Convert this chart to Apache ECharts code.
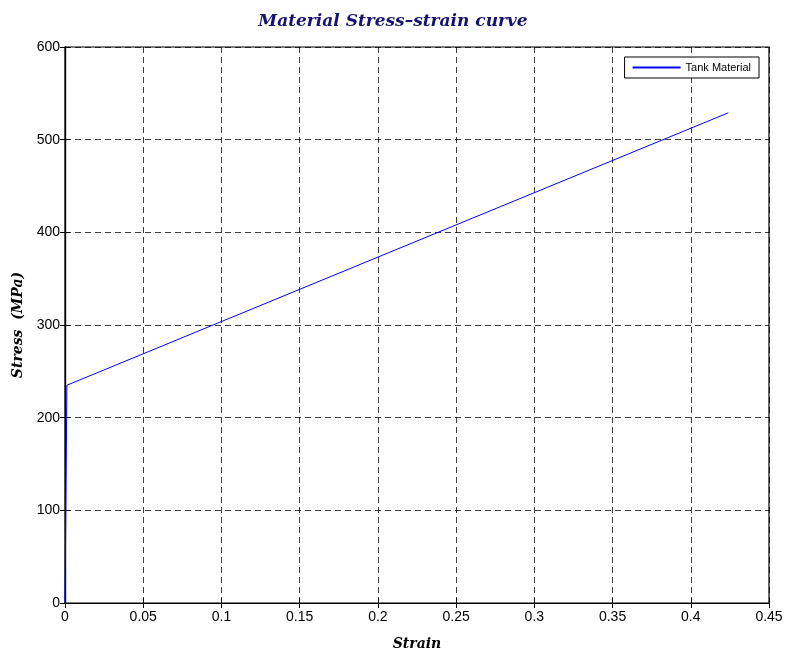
<!DOCTYPE html>
<html><head><meta charset="utf-8">
<script src="https://cdn.jsdelivr.net/npm/echarts@6/dist/echarts.min.js"></script>
<style>html,body{margin:0;padding:0;background:#fff}#c{width:786px;height:657px}</style>
</head><body><div id="c"></div>
<script>
const strain = [0, 0.0012, 0.424];
const stress = [0, 235, 529];
const seriesName = 'Tank Material';
const chart = echarts.init(document.getElementById('c'), null, {renderer:'canvas'});
const axisFont = {fontFamily:'Liberation Sans, Arial', fontSize:14, color:'#000'};
const split = {show:true, lineStyle:{color:'#000', type:[6,4], width:1, opacity:0.75}};
chart.setOption({
  animation:false,
  backgroundColor:'#fff',
  title:{text:'Material Stress\u2013strain curve', left:'center', top:8,
    textStyle:{fontFamily:'DejaVu Serif, serif', fontStyle:'italic', fontWeight:'bold', fontSize:17, color:'#141470'}},
  legend:{data:[seriesName], right:27, top:57, orient:'vertical', backgroundColor:'#fff',
    borderColor:'#000', borderWidth:1, borderRadius:0, padding:[5,8,5,8], itemWidth:48, itemHeight:2,
    icon:'rect', textStyle:{fontFamily:'Liberation Sans, Arial', fontSize:11, color:'#000'}},
  grid:{left:65, right:17, top:47, bottom:54, show:true, borderColor:'#000', borderWidth:1.2},
  xAxis:[{type:'value', min:0, max:0.45, interval:0.05, position:'bottom',
    name:'Strain', nameLocation:'middle', nameGap:34,
    nameTextStyle:{fontFamily:'DejaVu Serif, serif', fontStyle:'italic', fontWeight:'bold', fontSize:14, color:'#000'},
    axisLine:{show:true, lineStyle:{color:'#000', width:1.2}},
    axisTick:{show:true, inside:true, length:5, lineStyle:{color:'#000'}},
    axisLabel:Object.assign({margin:7, formatter:v=>String(+v.toFixed(2))}, axisFont),
    splitLine:split},
    {type:'value', min:0, max:0.45, interval:0.05, position:'top',
    axisLine:{show:true, lineStyle:{color:'#000', width:1.2}},
    axisTick:{show:true, inside:true, length:5, lineStyle:{color:'#000'}},
    axisLabel:{show:false}, splitLine:{show:false}}],
  yAxis:[{type:'value', min:0, max:600, interval:100, position:'left',
    name:'Stress  (MPa)', nameLocation:'middle', nameGap:40,
    nameTextStyle:{fontFamily:'DejaVu Serif, serif', fontStyle:'italic', fontWeight:'bold', fontSize:14, color:'#000'},
    axisLine:{show:true, lineStyle:{color:'#000', width:1.2}},
    axisTick:{show:true, inside:true, length:5, lineStyle:{color:'#000'}},
    axisLabel:Object.assign({margin:5}, axisFont),
    splitLine:split},
    {type:'value', min:0, max:600, interval:100, position:'right',
    axisLine:{show:true, lineStyle:{color:'#000', width:1.2}},
    axisTick:{show:true, inside:true, length:5, lineStyle:{color:'#000'}},
    axisLabel:{show:false}, splitLine:{show:false}}],
  series:[{name:seriesName, type:'line', data:strain.map((s,i)=>[s,stress[i]]),
    showSymbol:false, symbol:'none', lineStyle:{color:'#0000ff', width:1}, itemStyle:{color:'#0000ff'}}]
});
</script></body></html>
